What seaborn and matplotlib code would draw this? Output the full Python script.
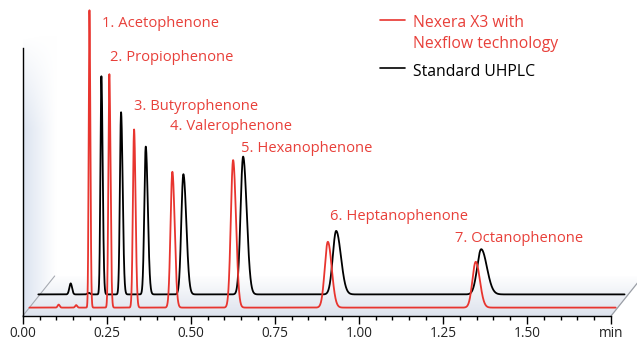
import numpy as np
import pandas as pd
import matplotlib
matplotlib.use("Agg")
import matplotlib.pyplot as plt
from matplotlib.patches import Polygon
import seaborn as sns

# ---------------- data ----------------
compounds = ["1. Acetophenone", "2. Propiophenone", "3. Butyrophenone",
             "4. Valerophenone", "5. Hexanophenone", "6. Heptanophenone",
             "7. Octanophenone"]
# Nexera X3 with Nexflow technology (red trace)
nexera_rt = [0.1985, 0.2577, 0.3313, 0.4452, 0.6259, 0.9077, 1.3476]
nexera_height = [297.5, 233.5, 178.2, 135.8, 147.5, 65.8, 45.8]
nexera_sigma = [0.0022, 0.0028, 0.0035, 0.0055, 0.0068, 0.0092, 0.0098]
nexera_minor_rt = [0.107, 0.159]
nexera_minor_height = [3.0, 2.5]
# Standard UHPLC (black trace)
standard_rt = [0.2042, 0.2628, 0.3363, 0.4482, 0.6259, 0.9027, 1.3342]
standard_height = [218.2, 182.2, 147.8, 120.2, 137.8, 63.5, 45.2]
standard_sigma = [0.0028, 0.0034, 0.0043, 0.0062, 0.0076, 0.0100, 0.0120]
standard_minor_rt = [0.113, 0.167]
standard_minor_height = [11.0, 1.5]

x_ticks = [0.0, 0.25, 0.5, 0.75, 1.0, 1.25, 1.5, 1.75]
x_tick_labels = ["0.00", "0.25", "0.50", "0.75", "1.00", "1.25", "1.50", "min"]
legend_labels = ["Nexera X3 with\nNexflow technology", "Standard UHPLC"]

# ---------------- styles / layout ----------------
RED = "#e8352f"
TXT_RED = "#e8403a"
W, H = 637, 342
X0, X1, YAX, YTOP = 22.7, 611.0, 316.0, 48.0
RED_BASE = 8.4        # px above axis
BLK_BASE = 21.6
BLK_DX = 10.0 / 336.0  # perspective shift in minutes


def trace(t, rts, hs, sig, tail, mrt, mh, msig):
    y = np.zeros_like(t)
    for r, h, s in zip(rts, hs, sig):
        ss = np.where(t < r, s, s * tail)
        y += h * np.exp(-0.5 * ((t - r) / ss) ** 2)
    for r, h in zip(mrt, mh):
        y += h * np.exp(-0.5 * ((t - r) / msig) ** 2)
    return y


t_red = np.arange(0.020, 1.764, 0.0002)
t_blk = np.arange(0.0167, 1.7607, 0.0002)
y_red = RED_BASE + trace(t_red, nexera_rt, nexera_height, nexera_sigma, 1.25,
                         nexera_minor_rt, nexera_minor_height, 0.003)
y_blk = BLK_BASE + trace(t_blk, standard_rt, standard_height, standard_sigma, 1.4,
                         standard_minor_rt, standard_minor_height, 0.004)
df_red = pd.DataFrame({"t": t_red, "y": y_red})
df_blk = pd.DataFrame({"t": t_blk + BLK_DX, "y": y_blk})

sns.set_theme(style="white")
plt.rcParams["font.family"] = ["Open Sans", "DejaVu Sans"]

fig = plt.figure(figsize=(W / 100, H / 100), dpi=100)

# background / perspective decorations in pixel coordinates
bg = fig.add_axes([0, 0, 1, 1], zorder=0)
bg.set_xlim(0, W)
bg.set_ylim(H, 0)
bg.axis("off")

# floor gradient
floor = Polygon([(X0, YAX), (X1, YAX), (X1 + 32, YAX - 40), (X0 + 32, YAX - 40)],
                closed=True, facecolor="none", edgecolor="none")
bg.add_patch(floor)
grad = np.linspace(0, 1, 64)[:, None]
c0 = np.array([0.87, 0.89, 0.93])
img = c0 + (1 - c0) * (1 - grad)[:, :, None] * np.ones((1, 2, 1))
img = np.clip(img, 0, 1)
im = bg.imshow(img, extent=(X0, X1 + 40, YAX, YAX - 42), aspect="auto",
               interpolation="bilinear", zorder=0)
im.set_clip_path(floor)

# back wall gradient
wall = Polygon([(X0, YAX), (X0, YTOP - 8), (X0 + 34, YTOP - 14), (X0 + 34, YAX - 40)],
               closed=True, facecolor="none", edgecolor="none")
bg.add_patch(wall)
gx = np.linspace(0, 1, 64)[None, :]
gy = np.linspace(0, 1, 64)[:, None]
fade = np.clip(gy * 3, 0, 1) * (1 - gx) ** 1.1
c1 = np.array([0.86, 0.89, 0.94])
wimg = 1 - (1 - c1)[None, None, :] * fade[:, :, None]
wim = bg.imshow(wimg, extent=(X0, X0 + 34, YAX, YTOP - 14), aspect="auto",
                interpolation="bilinear", zorder=0)
wim.set_clip_path(wall)

# perspective diagonals
bg.plot([X0, X0 + 32], [YAX, YAX - 40], color="#a6aab2", lw=0.8, zorder=1)
bg.plot([X1, X1 + 32], [YAX, YAX - 40], color="#9a9ea6", lw=0.9, zorder=1)

# main axes
ax = fig.add_axes([X0 / W, (H - YAX) / H, (X1 - X0) / W, (YAX - YTOP) / H], zorder=2)
ax.patch.set_alpha(0)
sns.lineplot(data=df_blk, x="t", y="y", ax=ax, color="black", lw=1.3,
             estimator=None, sort=False, clip_on=False)
sns.lineplot(data=df_red, x="t", y="y", ax=ax, color=RED, lw=1.3,
             estimator=None, sort=False, clip_on=False)
ax.set_xlim(0, 1.75)
ax.set_ylim(0, YAX - YTOP)
ax.set_xlabel("")
ax.set_ylabel("")
ax.set_yticks([])
ax.set_xticks(x_ticks)
ax.set_xticklabels(x_tick_labels, fontsize=9.8, color="#222222")
ax.set_xticks(np.arange(0, 1.7501, 0.05), minor=True)
ax.tick_params(axis="x", which="major", direction="out", length=6, width=1,
               color="black", pad=1.5, bottom=True)
ax.tick_params(axis="x", which="minor", direction="out", length=3, width=1,
               color="black", bottom=True)
for s in ["top", "right"]:
    ax.spines[s].set_visible(False)
ax.spines["bottom"].set_color("black")
ax.spines["left"].set_color("black")
ax.spines["bottom"].set_linewidth(1.0)
ax.spines["left"].set_linewidth(1.0)

# peak labels (pixel positions, baseline)
label_pos = [(101.7, 26.7), (110.0, 61.0), (134.3, 110.0), (170.0, 130.0),
             (241.0, 152.3), (329.7, 220.3), (455.3, 242.0)]
for name, (px, py) in zip(compounds, label_pos):
    bg.text(px, py, name, color=TXT_RED, fontsize=10.6, ha="left", va="baseline", zorder=3)

# legend (manual)
nex1, nex2 = legend_labels[0].split("\n")
bg.plot([379.5, 405.0], [19.5, 19.5], color=RED, lw=1.2, zorder=3)
bg.text(412.7, 26.7, nex1, color=TXT_RED, fontsize=11.3, ha="left", va="baseline")
bg.text(412.7, 47.7, nex2, color=TXT_RED, fontsize=11.3, ha="left", va="baseline")
bg.plot([379.5, 405.0], [68.3, 68.3], color="black", lw=1.2, zorder=3)
bg.text(412.7, 76.0, legend_labels[1], color="black", fontsize=11.3, ha="left", va="baseline")

fig.savefig("out.png", dpi=100)
